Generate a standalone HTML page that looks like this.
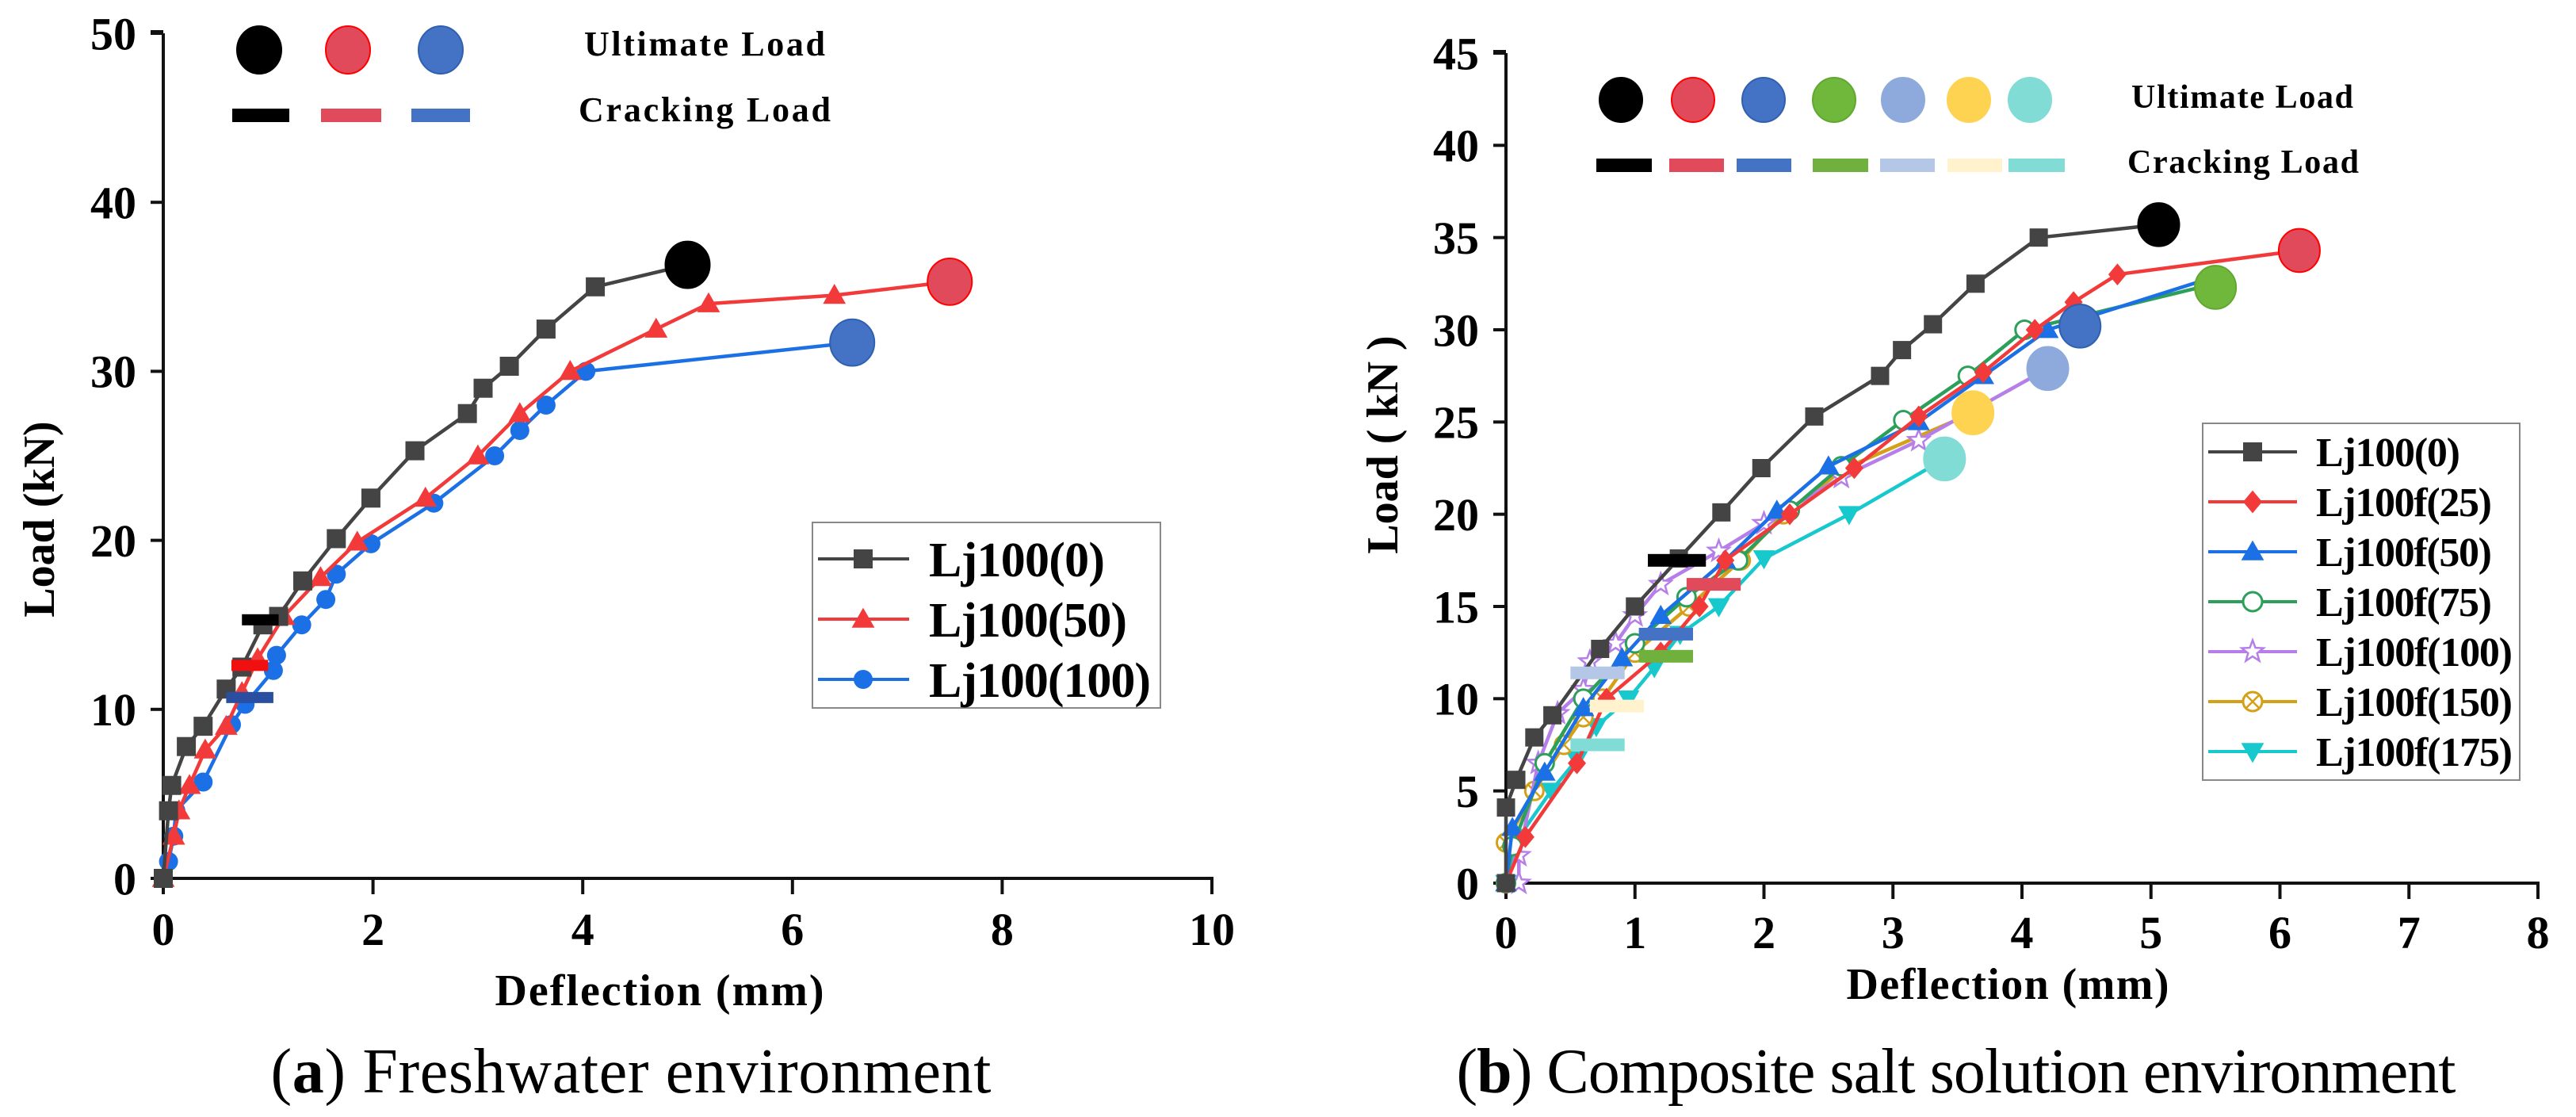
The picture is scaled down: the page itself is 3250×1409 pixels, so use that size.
<!DOCTYPE html>
<html><head><meta charset="utf-8"><style>
html,body{margin:0;padding:0;background:#fff;}
svg{display:block;font-family:"Liberation Serif",serif;}
</style></head><body>
<svg id="svg" width="3250" height="1409" viewBox="0 0 3250 1409" xmlns="http://www.w3.org/2000/svg">
<g id="ga"></g>
<g id="gb"></g>
</svg>
<script>
// ---- Chart A data ----
const aXTicks = [0,2,4,6,8,10];
const aYTicks = [0,10,20,30,40,50];
const aNames = ["Lj100(0)","Lj100(50)","Lj100(100)"];
const aS0x = [0,0.05,0.08,0.22,0.38,0.6,0.75,0.95,1.1,1.33,1.65,1.98,2.4,2.9,3.05,3.3,3.65,4.12,5.0];
const aS0y = [0,4,5.5,7.8,9,11.2,12.5,15,15.5,17.6,20.1,22.5,25.3,27.5,29,30.3,32.5,35,36.3];
const aS1x = [0,0.1,0.15,0.25,0.4,0.6,0.75,0.9,1.15,1.5,1.85,2.5,3.0,3.4,3.88,4.7,5.2,6.4,7.5];
const aS1y = [0,2.5,4,5.5,7.6,9,11,13,15.5,17.8,19.9,22.5,25,27.5,30,32.5,34,34.5,35.3];
const aS2x = [0,0.05,0.1,0.12,0.38,0.65,0.78,1.05,1.08,1.32,1.55,1.65,1.98,2.58,3.16,3.4,3.65,4.03,6.57];
const aS2y = [0,1,2.5,4,5.7,9.1,10.3,12.3,13.2,15,16.5,18,19.8,22.2,25,26.5,28,30,31.7];
const aUltX = [5.0,7.5,6.57];
const aUltY = [36.3,35.3,31.7];
const aCrX1 = [0.75,0.65,0.6];
const aCrX2 = [1.1,1.0,1.05];
const aCrY = [15.3,12.6,10.7];
// ---- Chart B data ----
const bXTicks = [0,1,2,3,4,5,6,7,8];
const bYTicks = [0,5,10,15,20,25,30,35,40,45];
const bNames = ["Lj100(0)","Lj100f(25)","Lj100f(50)","Lj100f(75)","Lj100f(100)","Lj100f(150)","Lj100f(175)"];
const bS0x = [0,0,0.08,0.22,0.36,0.73,1.0,1.34,1.67,1.98,2.39,2.9,3.07,3.31,3.64,4.13,5.06];
const bS0y = [0,4.1,5.6,7.9,9.1,12.7,15,17.6,20.1,22.5,25.3,27.5,28.9,30.3,32.5,35,35.7];
const bS1x = [0,0.15,0.55,0.78,1.2,1.5,1.7,2.2,2.7,3.2,3.7,4.1,4.4,4.74,6.15];
const bS1y = [0,2.5,6.5,10,12.5,15,17.5,20,22.5,25.3,27.7,30,31.5,33,34.3];
const bS2x = [0,0.05,0.3,0.6,0.9,1.2,1.7,2.1,2.5,3.2,3.7,4.2,5.55];
const bS2y = [0,3,6,9.5,12.2,14.5,17.5,20.2,22.6,25,27.5,30,33];
const bS3x = [0,0.05,0.3,0.6,1.0,1.4,1.8,2.2,2.6,3.08,3.58,4.02,5.5];
const bS3y = [0,2,6.5,10,13,15.5,17.5,20.2,22.6,25.1,27.5,30,32.5];
const bS4x = [0.1,0.1,0.25,0.4,0.6,0.65,0.85,1.0,1.2,1.65,2.0,2.6,3.2,4.2];
const bS4y = [0,1.5,6.5,9.2,10.5,12,13,14.5,16.2,18,19.5,22,24,27.9];
const bS5x = [0,0,0.22,0.45,0.6,0.75,1.0,1.42,1.82,2.15,2.63,3.62];
const bS5y = [0,2.2,5,7.5,9,10,12.5,15,17.5,20,22.5,25.5];
const bS6x = [0,0.1,0.35,0.55,0.7,0.95,1.15,1.35,1.65,2.0,2.66,3.4];
const bS6y = [0,2.5,5,6.7,8.5,10,11.7,13.5,15,17.6,20,23];
const bUltX = [5.06,6.15,4.45,5.5,4.2,3.62,3.4];
const bUltY = [35.7,34.3,30.2,32.3,27.9,25.5,23];
const bCrX1 = [1.1,1.4,1.03,1.03,0.5,0.65,0.5];
const bCrX2 = [1.55,1.82,1.45,1.45,0.92,1.07,0.92];
const bCrY = [17.5,16.2,13.5,12.3,11.4,9.6,7.5];

const NS="http://www.w3.org/2000/svg";
function mk(parent,tag,attrs,text){const e=document.createElementNS(NS,tag);for(const k in attrs)e.setAttribute(k,attrs[k]);if(text!==undefined)e.textContent=text;parent.appendChild(e);return e;}
function lin(d0,d1,p0,p1){return v=>p0+(v-d0)*(p1-p0)/(d1-d0);}

function marker(g,type,x,y,color,s){
  let e;
  if(type==="square"){e=mk(g,"rect",{x:x-s/2,y:y-s/2,width:s,height:s,fill:color});}
  else if(type==="tri"){e=mk(g,"polygon",{points:`${x},${y-s*0.6} ${x-s*0.6},${y+s*0.45} ${x+s*0.6},${y+s*0.45}`,fill:color});}
  else if(type==="circle"){e=mk(g,"circle",{cx:x,cy:y,r:s/2,fill:color});}
  else if(type==="diamond"){e=mk(g,"polygon",{points:`${x},${y-s*0.6} ${x+s*0.5},${y} ${x},${y+s*0.6} ${x-s*0.5},${y}`,fill:color});}
  else if(type==="ocircle"){e=mk(g,"circle",{cx:x,cy:y,r:s/2,fill:"#fff",stroke:color,"stroke-width":3});}
  else if(type==="star"){let p=[];for(let i=0;i<10;i++){const r=i%2?s*0.25:s*0.6,a=-Math.PI/2+i*Math.PI/5;p.push((x+r*Math.cos(a)).toFixed(1)+","+(y+r*Math.sin(a)).toFixed(1));}e=mk(g,"polygon",{points:p.join(" "),fill:"#fff",stroke:color,"stroke-width":2.5});}
  else if(type==="xcircle"){e=mk(g,"g",{});mk(e,"circle",{cx:x,cy:y,r:s/2,fill:"#fff",stroke:color,"stroke-width":3});const d=s*0.35;mk(e,"path",{d:`M${x-d},${y-d}L${x+d},${y+d}M${x-d},${y+d}L${x+d},${y-d}`,stroke:color,"stroke-width":2.5});}
  else if(type==="dtri"){e=mk(g,"polygon",{points:`${x},${y+s*0.6} ${x-s*0.6},${y-s*0.45} ${x+s*0.6},${y-s*0.45}`,fill:color});}
  
  
  return e;
}

function axes(g,X,Y,xt,yt,x0,x1,y0,y1,tfs,xlabY,ylabX){
  const ax=mk(g,"path",{d:`M${X(x0)},${Y(y1)-2}H${X(x0)-16}M${X(x0)},${Y(y1)}V${Y(y0)}H${X(x1)}V${Y(y0)+20}`,fill:"none",stroke:"#111","stroke-width":4});
  
  
  xt.forEach(v=>{
    const t=mk(g,"path",{d:`M${X(v)},${Y(y0)}V${Y(y0)+20}`,stroke:"#111","stroke-width":4});
    
    
    const l=mk(g,"text",{x:X(v),y:xlabY,"text-anchor":"middle","font-size":tfs,"font-weight":"bold"},String(v));
    
    
  });
  yt.forEach(v=>{
    const t=mk(g,"path",{d:`M${X(x0)},${Y(v)}H${X(x0)-16}`,stroke:"#111","stroke-width":4});
    
    
    const l=mk(g,"text",{x:ylabX,y:Y(v)+tfs*0.35,"text-anchor":"end","font-size":tfs,"font-weight":"bold"},String(v));
    
    
  });
}

function series(g,X,Y,xs,ys,color,mtype,ms,name){
  const sg=mk(g,"g",{});
  
  
  const n=xs.length;
  const pts=xs.map((v,i)=>X(v).toFixed(1)+","+Y(ys[i]).toFixed(1)).join(" ");
  const pl=mk(sg,"polyline",{points:pts,fill:"none",stroke:color,"stroke-width":4.5,"stroke-linejoin":"round"});
  
  
  for(let i=0;i<n-1;i++)marker(sg,mtype,X(xs[i]),Y(ys[i]),color,ms);
}

function ult(g,X,Y,x,y,fill,stroke,r){
  const c=mk(g,"ellipse",{cx:X(x),cy:Y(y),rx:r,ry:r*1.05,fill:fill,stroke:stroke,"stroke-width":2});
  
  
}
function crack(g,X,Y,x1,x2,y,fill,h){
  const r=mk(g,"rect",{x:X(x1),y:Y(y)-h/2,width:X(x2)-X(x1),height:h,fill:fill});
  
  
}

// ===== Chart A =====
(function(){
  const g=document.getElementById("ga");
  const X=lin(0,10,206,1529), Y=lin(0,50,1108,42);
  axes(g,X,Y,aXTicks,aYTicks,0,10,0,50,58,1192,172);
  const cols=["#444444","#f23a3a","#1c70e6"], mt=["square","tri","circle"];
  const sx=[aS0x,aS1x,aS2x], sy=[aS0y,aS1y,aS2y];
  for(let i=2;i>=0;i--)series(g,X,Y,sx[i],sy[i],cols[i],mt[i],24,aNames[i]);
  const uf=["#000","#e04a5a","#4472c4"], us=["#000","#f00","#3060b0"], cf=["#000","#f01010","#2a4fa0"];
  for(let i=0;i<3;i++){crack(g,X,Y,aCrX1[i],aCrX2[i],aCrY[i],cf[i],14);ult(g,X,Y,aUltX[i],aUltY[i],uf[i],us[i],28);}
  const lx=[327,439,556], dx=[[293,365],[405,481],[519,593]];
  for(let i=0;i<3;i++){
    const c=mk(g,"ellipse",{cx:lx[i],cy:63,rx:28,ry:30,fill:uf[i],stroke:us[i],"stroke-width":2});
    
    
    const r=mk(g,"rect",{x:dx[i][0],y:137,width:dx[i][1]-dx[i][0],height:17,fill:uf[i]});
    
    
  }
  let t=mk(g,"text",{x:737,y:70,"font-size":44,"font-weight":"bold",textLength:304},"Ultimate Load");
  
  
  t=mk(g,"text",{x:730,y:153,"font-size":44,"font-weight":"bold",textLength:318},"Cracking Load");
  
  
  const lg=mk(g,"g",{});
  
  
  mk(lg,"rect",{x:1025,y:659,width:439,height:234,fill:"#fff",stroke:"#888","stroke-width":2});
  const lw=[222,250,280];
  for(let i=0;i<3;i++){
    const y=705+i*76;
    mk(lg,"path",{d:`M1032,${y}H1147`,stroke:cols[i],"stroke-width":4});
    marker(lg,mt[i],1089,y,cols[i],24);
    const tx=mk(lg,"text",{x:1172,y:y+22,"font-size":62,"font-weight":"bold",textLength:lw[i]},aNames[i]);
    
    
  }
  t=mk(g,"text",{x:832,y:1268,"text-anchor":"middle","font-size":56,"font-weight":"bold",textLength:415},"Deflection (mm)");
  
  
  t=mk(g,"text",{x:0,y:0,"text-anchor":"middle","font-size":56,"font-weight":"bold",transform:"translate(68,655) rotate(-90)"},"Load (kN)");
  
  
  t=mk(g,"text",{x:796,y:1378,"text-anchor":"middle","font-size":80,textLength:909});
  t.innerHTML='(<tspan font-weight="bold">a</tspan>) Freshwater environment';
  
  
})();

// ===== Chart B =====
(function(){
  const g=document.getElementById("gb");
  const X=lin(0,8,1900,3202), Y=lin(0,45,1114,67);
  axes(g,X,Y,bXTicks,bYTicks,0,8,0,45,58,1196,1866);
  const cols=["#444444","#f23a3a","#1c70e6","#2ca05a","#b57ee8","#d4a017","#17c8cc"];
  const mt=["square","diamond","tri","ocircle","star","xcircle","dtri"];
  const sx=[bS0x,bS1x,bS2x,bS3x,bS4x,bS5x,bS6x], sy=[bS0y,bS1y,bS2y,bS3y,bS4y,bS5y,bS6y];
  for(let i=6;i>=0;i--)series(g,X,Y,sx[i],sy[i],cols[i],mt[i],23,bNames[i]);
  const uf=["#000","#e04a5a","#4472c4","#70b83c","#8eaadc","#ffd352","#80dcd4"];
  const us=["#000","#f00","#3060b0","#60a830","#8eaadc","#ffd352","#80dcd4"];
  const cf=["#000","#e04a5a","#4472c4","#70b03c","#b4c7e7","#fff2cc","#80dcd4"];
  for(let i=0;i<7;i++){crack(g,X,Y,bCrX1[i],bCrX2[i],bCrY[i],cf[i],16);}
  for(let i=0;i<7;i++){ult(g,X,Y,bUltX[i],bUltY[i],uf[i],us[i],26);}
  const lx=[2045,2136,2225,2314,2401,2484,2561];
  const dx=[[2014,2084],[2106,2175],[2191,2260],[2287,2357],[2372,2441],[2457,2526],[2534,2605]];
  for(let i=0;i<7;i++){
    const c=mk(g,"ellipse",{cx:lx[i],cy:126,rx:27,ry:28,fill:uf[i],stroke:us[i],"stroke-width":2});
    
    
    const r=mk(g,"rect",{x:dx[i][0],y:200,width:dx[i][1]-dx[i][0],height:17,fill:cf[i]});
    
    
  }
  let t=mk(g,"text",{x:2689,y:136,"font-size":42,"font-weight":"bold",textLength:280},"Ultimate Load");
  
  
  t=mk(g,"text",{x:2684,y:218,"font-size":42,"font-weight":"bold",textLength:292},"Cracking Load");
  
  
  const lg=mk(g,"g",{});
  
  
  mk(lg,"rect",{x:2779,y:534,width:400,height:450,fill:"#fff",stroke:"#888","stroke-width":2});
  const lw=[182,222,222,222,248,248,248];
  for(let i=0;i<7;i++){
    const y=570+i*63;
    mk(lg,"path",{d:`M2786,${y}H2898`,stroke:cols[i],"stroke-width":4});
    marker(lg,mt[i],2842,y,cols[i],24);
    const tx=mk(lg,"text",{x:2922,y:y+18,"font-size":52,"font-weight":"bold",textLength:lw[i]},bNames[i]);
    
    
  }
  t=mk(g,"text",{x:2533,y:1260,"text-anchor":"middle","font-size":56,"font-weight":"bold",textLength:407},"Deflection (mm)");
  
  
  t=mk(g,"text",{x:0,y:0,"text-anchor":"middle","font-size":56,"font-weight":"bold",transform:"translate(1763,561) rotate(-90)"},"Load ( kN )");
  
  
  t=mk(g,"text",{x:2468,y:1378,"text-anchor":"middle","font-size":80,textLength:1261});
  t.innerHTML='(<tspan font-weight="bold">b</tspan>) Composite salt solution environment';
  
  
})();
</script>
</body></html>
